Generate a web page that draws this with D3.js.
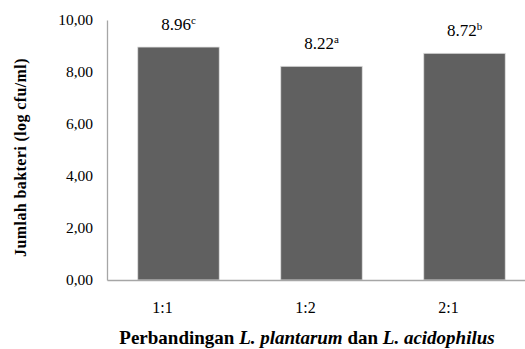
<!DOCTYPE html>
<html>
<head>
<meta charset="utf-8">
<script src="https://cdn.jsdelivr.net/npm/d3@7"></script>
<style>
  body { margin: 0; background: #fff; }
  svg { display: block; }
  svg text { font-family: 'Liberation Serif', 'Times New Roman', serif; }
</style>
</head>
<body>
<div class="chart"></div>
<script>
const categories = ["1:1", "1:2", "2:1"];
const values = [8.96, 8.22, 8.72];
const letters = ["c", "a", "b"];
const yTicks = [0, 2, 4, 6, 8, 10];

function init() {
    const w = 525;
    const h = 349;
    const margin = { top: 20, right: -11, bottom: 69, left: 107 };
    const serif = "'Liberation Serif', 'Times New Roman', serif";

    const svg = d3.select(".chart")
        .append("svg")
        .attr("width", w)
        .attr("height", h);

    const x = d3.scaleBand()
        .domain(categories)
        .range([margin.left, w - margin.right])
        .paddingInner(0.43)
        .paddingOuter(0.215);

    const y = d3.scaleLinear()
        .domain([0, 10])
        .range([h - margin.bottom, margin.top]);

    // y axis
    const yAxis = svg.append("g")
        .attr("transform", `translate(${margin.left},0)`)
        .call(d3.axisLeft(y).tickValues(yTicks).tickSize(0).tickPadding(14)
            .tickFormat(d => d3.format(".2f")(d).replace(".", ",")));
    yAxis.attr("font-family", null);
    yAxis.select(".domain").attr("stroke", "#a6a6a6").attr("stroke-width", 1.3);
    yAxis.selectAll("text").style("font-family", serif).style("font-size", "15.5px").attr("fill", "#000");

    // bars
    svg.selectAll("rect.bar")
        .data(values)
        .enter()
        .append("rect")
        .attr("class", "bar")
        .attr("x", (d, i) => x(categories[i]))
        .attr("y", d => y(d))
        .attr("width", x.bandwidth())
        .attr("height", d => y(0) - y(d))
        .attr("fill", "#606060")
        .attr("stroke", "#e0e0e0")
        .attr("stroke-width", 0.8);

    // x axis
    const xAxis = svg.append("g")
        .attr("transform", `translate(0,${y(0)})`)
        .call(d3.axisBottom(x).tickSize(0).tickPadding(22));
    xAxis.attr("font-family", null);
    xAxis.select(".domain").attr("stroke", "#a6a6a6").attr("stroke-width", 1.3);
    xAxis.selectAll("text").style("font-family", serif).style("font-size", "16px")
        .attr("fill", "#000").attr("dx", -16);

    // value labels with superscript letters
    const lab = svg.selectAll("text.val")
        .data(values)
        .enter()
        .append("text")
        .attr("class", "val")
        .attr("x", (d, i) => x(categories[i]) + x.bandwidth() / 2)
        .attr("y", d => y(d) - 17)
        .attr("text-anchor", "middle")
        .style("font-family", serif)
        .style("font-size", "17px")
        .attr("fill", "#000");
    lab.append("tspan").text(d => d.toFixed(2));
    lab.append("tspan")
        .style("font-size", "11px")
        .attr("dy", -6)
        .text((d, i) => letters[i]);

    // axis titles
    const xt = svg.append("text")
        .attr("x", 307)
        .attr("y", 344)
        .attr("text-anchor", "middle")
        .style("font-family", serif)
        .style("font-size", "19px")
        .style("font-weight", "bold")
        .attr("fill", "#000");
    xt.append("tspan").text("Perbandingan ");
    xt.append("tspan").style("font-style", "italic").text("L. plantarum");
    xt.append("tspan").text(" dan ");
    xt.append("tspan").style("font-style", "italic").text("L. acidophilus");

    svg.append("text")
        .attr("transform", "translate(26,157.5) rotate(-90)")
        .attr("text-anchor", "middle")
        .style("font-family", serif)
        .style("font-size", "16px")
        .style("font-weight", "bold")
        .style("letter-spacing", "0.4px")
        .attr("fill", "#000")
        .text("Jumlah bakteri (log cfu/ml)");
}

window.onload = init;
</script>
</body>
</html>
